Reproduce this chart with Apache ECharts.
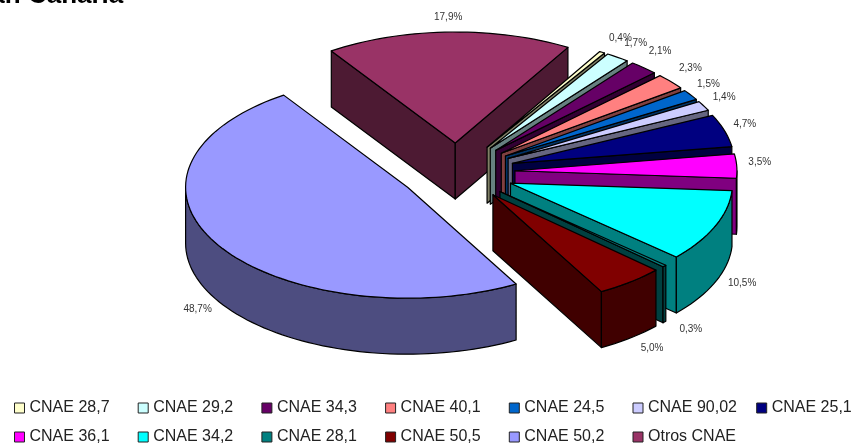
<!DOCTYPE html>
<html><head><meta charset="utf-8">
<style>html,body{margin:0;padding:0;background:#fff}#c{width:854px;height:443px}</style>
<script src="https://cdn.jsdelivr.net/npm/echarts@6/dist/echarts.min.js"></script>
</head><body><div id="c"></div>
<script>
const categories=['CNAE 28,7','CNAE 29,2','CNAE 34,3','CNAE 40,1','CNAE 24,5','CNAE 90,02','CNAE 25,1','CNAE 36,1','CNAE 34,2','CNAE 28,1','CNAE 50,5','CNAE 50,2','Otros CNAE'];
const shares=[0.4,1.7,2.1,2.3,1.5,1.4,4.7,3.5,10.5,0.3,5.0,48.7,17.9];
const colors=['#FFFFCC','#CCFFFF','#660066','#FF8080','#0066CC','#CCCCFF','#000080','#FF00FF','#00FFFF','#008080','#800000','#9999FF','#993366'];
// legend grid: [column,row] of every category
const legendCells=[[0,0],[1,0],[2,0],[3,0],[4,0],[5,0],[6,0],[0,1],[1,1],[2,1],[3,1],[4,1],[5,1]];
// layout of the tilted pie
const CX=457,CY=172,R=222,K=0.5,EXPLODE=58,DEPTH=56,START=30.5;
const labelOffsets=[[11,-8],[10,-8],[7,-11],[9,-9],[6,-7],[8,-5],[7,-4],[9,-3],[14,-2],[16,3],[13,5],[-9,4],[0,-8]];
const rad=d=>d*Math.PI/180;
const total=shares.reduce((a,b)=>a+b,0);
let acc=START;
const slices=shares.map((v,i)=>{const s=acc,e=acc+v/total*360;acc=e;const m=(s+e)/2;
  return {i,s,e,m,ax:CX+EXPLODE*Math.sin(rad(m)),ay:CY-EXPLODE*K*Math.cos(rad(m))};});
const pt=(sl,a,r=R)=>[sl.ax+r*Math.sin(rad(a)),sl.ay-r*K*Math.cos(rad(a))];
const dark=c=>{const n=parseInt(c.slice(1),16);const f=x=>Math.round(x/2).toString(16).padStart(2,'0');return '#'+f(n>>16&255)+f(n>>8&255)+f(n&255);};
const fmt=v=>v.toFixed(1).replace('.',',')+'%';
const poly=(points,fill)=>({type:'polygon',shape:{points},style:{fill,stroke:'#000',lineWidth:1.2,lineJoin:'round'}});
function arc(sl,a,b){const n=Math.max(2,Math.ceil(Math.abs(b-a)/2));const o=[];for(let j=0;j<=n;j++)o.push(pt(sl,a+(b-a)*j/n));return o;}
function renderSlice(params,api){
  const idx=api.value(1),sl=slices[idx],c=colors[idx],d=dark(c),ch=[];
  const A=[sl.ax,sl.ay],low=p=>[p[0],p[1]+DEPTH];
  const radial=a=>{const P=pt(sl,a);return poly([A,P,low(P),low(A)],d);};
  if(Math.sin(rad(sl.s%360))<0) ch.push(radial(sl.s));
  if(Math.sin(rad(sl.e%360))>0) ch.push(radial(sl.e));
  const a0=Math.max(sl.s,90),a1=Math.min(sl.e,270);
  if(a1>a0){const top=arc(sl,a0,a1);ch.push(poly(top.concat(top.slice().reverse().map(low)),d));}
  ch.push(poly([A].concat(arc(sl,sl.s,sl.e)),c));
  const front=Math.cos(rad(sl.m))<0;
  const L=pt(sl,sl.m,R+14);
  ch.push({type:'text',z2:100,style:{x:L[0]+labelOffsets[idx][0],y:L[1]+(front?DEPTH:0)+labelOffsets[idx][1],text:fmt(api.value(0)),fill:'#333',font:'10px "Liberation Sans"',align:'center',verticalAlign:'middle'}});
  return {type:'group',children:ch};
}
const order=slices.slice().sort((a,b)=>a.ay-b.ay);
const series=order.map((sl,rank)=>({type:'custom',name:categories[sl.i],coordinateSystem:'none',z:2+rank,silent:true,
  itemStyle:{color:colors[sl.i]},data:[[shares[sl.i],sl.i]],renderItem:renderSlice,animation:false}));
const legends=categories.map((name,i)=>({orient:'horizontal',left:14+legendCells[i][0]*123.7,top:400+legendCells[i][1]*29,itemWidth:10,itemHeight:10,itemGap:0,icon:'rect',padding:0,selectedMode:false,
  itemStyle:{borderColor:'#222',borderWidth:1},textStyle:{fontFamily:'Liberation Sans',fontSize:16,color:'#222',padding:[0,0,2,0]},data:[name]}));
echarts.init(document.getElementById('c'),null,{renderer:'canvas'}).setOption({animation:false,backgroundColor:'#fff',
  title:{text:'Gran Canaria',left:-40,top:-17,padding:0,textStyle:{fontFamily:'Liberation Sans',fontSize:26,fontWeight:'bold',color:'#000'}},
  legend:legends,series});
</script></body></html>
